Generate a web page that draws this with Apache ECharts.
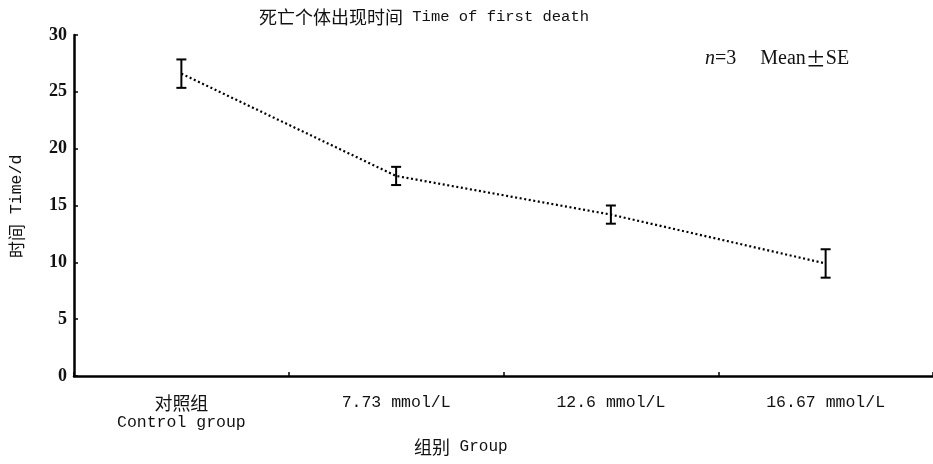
<!DOCTYPE html>
<html>
<head>
<meta charset="utf-8">
<script src="https://cdn.jsdelivr.net/npm/echarts@6/dist/echarts.min.js"></script>
<style>html,body{margin:0;padding:0;background:#fff;}#c{width:933px;height:464px;}</style>
</head>
<body>
<div id="c"></div>
<script>
const categories = ['对照组\nControl group', '7.73 mmol/L', '12.6 mmol/L', '16.67 mmol/L'];
const means = [26.6, 17.6, 14.2, 9.9];
const se = [1.25, 0.8, 0.8, 1.25];
const yTicks = { min: 0, max: 30, interval: 5 };
const titleText = '死亡个体出现时间 Time of first death';
const yName = '时间 Time/d';
const xName = '组别 Group';

const CJK = '"Noto Sans CJK SC", sans-serif';
const LAT = '"Liberation Mono", monospace';
const SERIF = '"Liberation Serif", serif';

function richify(s) {
  return s.split('\n').map(line => {
    let out = '', cur = '', curType = null;
    for (const ch of line) {
      const t = /[\u3000-\u9fff\uff00-\uffef]/.test(ch) ? 'c' : 'l';
      if (t !== curType && cur) { out += '{' + curType + '|' + cur + '}'; cur = ''; }
      curType = t; cur += ch;
    }
    if (cur) out += '{' + curType + '|' + cur + '}';
    return out;
  }).join('\n');
}

const chart = echarts.init(document.getElementById('c'));
const axisCol = '#000';
const errData = means.map((m, i) => [i, m - se[i], m + se[i]]);

chart.setOption({
  backgroundColor: '#fff',
  animation: false,
  grid: { left: 74, top: 35, width: 864, height: 341, containLabel: false },
  graphic: [
    { type: 'text', left: 259, top: 8, style: { text: richify(titleText), rich: {
      c: { fontFamily: CJK, fontSize: 18, fill: '#111' },
      l: { fontFamily: LAT, fontSize: 15.5, fill: '#111' } } } },
    { type: 'text', left: 705, top: 49, style: { text: '{i|n}{r|=3}{g|}{r|Mean}{c|±}{r|SE}', rich: {
      i: { fontFamily: SERIF, fontStyle: 'italic', fontSize: 20, fill: '#111' },
      r: { fontFamily: SERIF, fontSize: 20, fill: '#111' },
      g: { width: 24 },
      c: { fontFamily: CJK, fontSize: 20, fill: '#111' } } } },
    { type: 'text', left: 414, top: 438, style: { text: richify(xName), rich: {
      c: { fontFamily: CJK, fontSize: 18, fill: '#111' },
      l: { fontFamily: LAT, fontSize: 16, fill: '#111' } } } },
    { type: 'text', x: 8, y: 258, rotation: Math.PI / 2, style: { text: richify(yName), rich: {
      c: { fontFamily: CJK, fontSize: 17, fill: '#111' },
      l: { fontFamily: LAT, fontSize: 16.5, fill: '#111' } } } }
  ],
  xAxis: {
    type: 'category',
    data: categories,
    boundaryGap: true,
    axisLine: { lineStyle: { color: axisCol, width: 2.5 } },
    axisTick: { show: true, inside: true, length: 4, interval: 0, lineStyle: { color: axisCol, width: 1.5 } },
    axisLabel: {
      interval: 0, margin: 17, lineHeight: 20,
      formatter: v => richify(v),
      rich: {
        c: { fontFamily: CJK, fontSize: 18, lineHeight: 20, color: '#111' },
        l: { fontFamily: LAT, fontSize: 16.5, lineHeight: 20, color: '#111' }
      }
    },
    splitLine: { show: false }
  },
  yAxis: {
    type: 'value',
    min: yTicks.min, max: yTicks.max, interval: yTicks.interval,
    axisLine: { show: true, lineStyle: { color: axisCol, width: 2.5 } },
    axisTick: { show: true, inside: true, length: 4, lineStyle: { color: axisCol, width: 1.5 } },
    axisLabel: { margin: 7, fontFamily: SERIF, fontSize: 18, fontWeight: 'bold', color: '#111' },
    splitLine: { show: false }
  },
  series: [
    {
      type: 'line',
      data: means,
      symbol: 'none',
      lineStyle: { color: '#000', width: 2.2, type: [2, 2.6] },
      z: 2
    },
    {
      type: 'custom',
      data: errData,
      z: 3,
      renderItem: function (params, api) {
        const i = api.value(0);
        const lo = api.coord([i, api.value(1)]);
        const hi = api.coord([i, api.value(2)]);
        const w = 5;
        const st = { stroke: '#000', lineWidth: 2 };
        return {
          type: 'group',
          children: [
            { type: 'line', shape: { x1: hi[0], y1: hi[1], x2: lo[0], y2: lo[1] }, style: st },
            { type: 'line', shape: { x1: hi[0] - w, y1: hi[1], x2: hi[0] + w, y2: hi[1] }, style: st },
            { type: 'line', shape: { x1: lo[0] - w, y1: lo[1], x2: lo[0] + w, y2: lo[1] }, style: st }
          ]
        };
      }
    }
  ]
});
</script>
</body>
</html>
